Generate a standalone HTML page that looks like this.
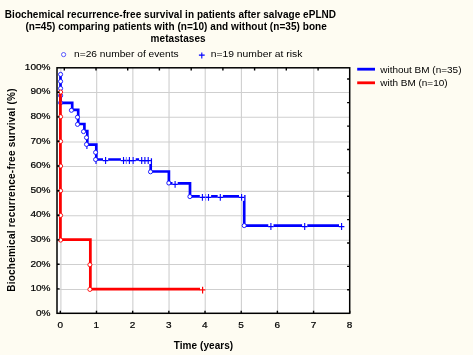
<!DOCTYPE html>
<html><head><meta charset="utf-8"><style>
html,body{margin:0;padding:0;background:#fefcf2;overflow:hidden}
svg{display:block}
text{font-family:"Liberation Sans",sans-serif;font-size:10px;fill:#000}
.b{font-weight:bold;font-size:10px}
.t{font-size:9.3px;letter-spacing:0.3px}
</style></head><body>
<svg width="473" height="355" viewBox="0 0 473 355">
<defs><filter id="gs" filterUnits="userSpaceOnUse" x="0" y="0" width="473" height="355"><feColorMatrix type="saturate" values="0"/></filter></defs>
<rect x="0" y="0" width="473" height="355" fill="#fefcf2"/>

<rect x="57.0" y="67.8" width="292.7" height="245.5" fill="#fff"/>
<path d="M96.68 67.8V313.3 M132.86 67.8V313.3 M169.04 67.8V313.3 M205.22 67.8V313.3 M241.40 67.8V313.3 M277.58 67.8V313.3 M313.76 67.8V313.3 M60.9 67.8V313.3 M57.0 92.5H349.7 M57.0 117.3H349.7 M57.0 142.0H349.7 M57.0 166.5H349.7 M57.0 191.4H349.7 M57.0 215.8H349.7 M57.0 240.3H349.7 M57.0 264.5H349.7 M57.0 289.5H349.7" stroke="#cfcfcf" stroke-width="1.1" fill="none"/>
<path d="M60.5 74.5 L60.5 102.9 L72.2 102.9 L72.2 109.9 L78.2 109.9 L78.2 124.0 L84.4 124.0 L84.4 131.0 L87.3 131.0 L87.3 144.6 L96.3 144.6 L96.3 159.5 L150.7 159.5 L150.7 171.5 L168.9 171.5 L168.9 183.4 L190.0 183.4 L190.0 196.4 L244.2 196.4 L244.2 225.6 L342.0 225.6" stroke="#0000ff" stroke-width="2.7" fill="none" stroke-linejoin="miter" stroke-linecap="butt"/>
<rect x="103.00" y="157.20" width="5.2" height="6.8" fill="#fff"/>
<rect x="120.90" y="157.20" width="5.2" height="6.8" fill="#fff"/>
<rect x="126.80" y="157.20" width="5.2" height="6.8" fill="#fff"/>
<rect x="130.50" y="157.20" width="5.2" height="6.8" fill="#fff"/>
<rect x="139.10" y="157.20" width="5.2" height="6.8" fill="#fff"/>
<rect x="142.30" y="157.20" width="5.2" height="6.8" fill="#fff"/>
<rect x="145.60" y="157.20" width="5.2" height="6.8" fill="#fff"/>
<rect x="172.50" y="181.00" width="5.2" height="6.8" fill="#fff"/>
<rect x="199.80" y="194.00" width="5.2" height="6.8" fill="#fff"/>
<rect x="205.90" y="194.00" width="5.2" height="6.8" fill="#fff"/>
<rect x="217.70" y="194.00" width="5.2" height="6.8" fill="#fff"/>
<rect x="239.00" y="194.00" width="5.2" height="6.8" fill="#fff"/>
<rect x="268.30" y="223.20" width="5.2" height="6.8" fill="#fff"/>
<rect x="302.10" y="223.20" width="5.2" height="6.8" fill="#fff"/>
<rect x="339.00" y="223.20" width="5.2" height="6.8" fill="#fff"/>
<rect x="123.80" y="157.20" width="5.2" height="6.8" fill="#fff"/>
<rect x="202.90" y="194.00" width="5.2" height="6.8" fill="#fff"/>
<path d="M102.80 160.60h5.6M105.60 157.10v6.8" stroke="#0000ff" stroke-width="1.1"/>
<path d="M120.70 160.60h5.6M123.50 157.10v6.8" stroke="#0000ff" stroke-width="1.1"/>
<path d="M126.60 160.60h5.6M129.40 157.10v6.8" stroke="#0000ff" stroke-width="1.1"/>
<path d="M130.30 160.60h5.6M133.10 157.10v6.8" stroke="#0000ff" stroke-width="1.1"/>
<path d="M138.90 160.60h5.6M141.70 157.10v6.8" stroke="#0000ff" stroke-width="1.1"/>
<path d="M142.10 160.60h5.6M144.90 157.10v6.8" stroke="#0000ff" stroke-width="1.1"/>
<path d="M145.40 160.60h5.6M148.20 157.10v6.8" stroke="#0000ff" stroke-width="1.1"/>
<path d="M172.30 184.40h5.6M175.10 180.90v6.8" stroke="#0000ff" stroke-width="1.1"/>
<path d="M199.60 197.40h5.6M202.40 193.90v6.8" stroke="#0000ff" stroke-width="1.1"/>
<path d="M205.70 197.40h5.6M208.50 193.90v6.8" stroke="#0000ff" stroke-width="1.1"/>
<path d="M217.50 197.40h5.6M220.30 193.90v6.8" stroke="#0000ff" stroke-width="1.1"/>
<path d="M238.80 197.40h5.6M241.60 193.90v6.8" stroke="#0000ff" stroke-width="1.1"/>
<path d="M268.10 226.60h5.6M270.90 223.10v6.8" stroke="#0000ff" stroke-width="1.1"/>
<path d="M301.90 226.60h5.6M304.70 223.10v6.8" stroke="#0000ff" stroke-width="1.1"/>
<path d="M338.80 226.60h5.6M341.60 223.10v6.8" stroke="#0000ff" stroke-width="1.1"/>
<path d="M123.60 160.20h5.6M126.40 157.10v6.8" stroke="#0000ff" stroke-width="1.2" opacity="0.45"/>
<path d="M202.70 197.00h5.6M205.50 193.90v6.8" stroke="#0000ff" stroke-width="1.2" opacity="0.45"/>
<path d="M86.9 144.4v4.6" stroke="#0000ff" stroke-width="1.1"/>
<path d="M96.0 159.5v4.6" stroke="#0000ff" stroke-width="1.1"/>
<circle cx="60.6" cy="74.4" r="2.05" fill="#fff" stroke="#0000ff" stroke-width="0.85"/>
<circle cx="60.6" cy="81.4" r="2.05" fill="#fff" stroke="#0000ff" stroke-width="0.85"/>
<circle cx="60.6" cy="88.4" r="2.05" fill="#fff" stroke="#0000ff" stroke-width="0.85"/>
<circle cx="60.6" cy="95.6" r="2.05" fill="#fff" stroke="#0000ff" stroke-width="0.85"/>
<circle cx="60.6" cy="102.8" r="2.05" fill="#fff" stroke="#0000ff" stroke-width="0.85"/>
<circle cx="71.4" cy="110.3" r="2.05" fill="#fff" stroke="#0000ff" stroke-width="0.85"/>
<circle cx="77.5" cy="117.2" r="2.05" fill="#fff" stroke="#0000ff" stroke-width="0.85"/>
<circle cx="77.5" cy="124.4" r="2.05" fill="#fff" stroke="#0000ff" stroke-width="0.85"/>
<circle cx="83.5" cy="131.6" r="2.05" fill="#fff" stroke="#0000ff" stroke-width="0.85"/>
<circle cx="86.5" cy="137.6" r="2.05" fill="#fff" stroke="#0000ff" stroke-width="0.85"/>
<circle cx="86.5" cy="144.4" r="2.05" fill="#fff" stroke="#0000ff" stroke-width="0.85"/>
<circle cx="95.6" cy="152.4" r="2.05" fill="#fff" stroke="#0000ff" stroke-width="0.85"/>
<circle cx="95.6" cy="159.5" r="2.05" fill="#fff" stroke="#0000ff" stroke-width="0.85"/>
<circle cx="150.5" cy="171.8" r="2.05" fill="#fff" stroke="#0000ff" stroke-width="0.85"/>
<circle cx="168.8" cy="183.0" r="2.05" fill="#fff" stroke="#0000ff" stroke-width="0.85"/>
<circle cx="189.9" cy="196.6" r="2.05" fill="#fff" stroke="#0000ff" stroke-width="0.85"/>
<circle cx="244.2" cy="225.6" r="2.05" fill="#fff" stroke="#0000ff" stroke-width="0.85"/>
<path d="M60.4 92.1 L60.4 239.7 L90.35 239.7 L90.35 289.2 L203.5 289.2" stroke="#ff0000" stroke-width="2.75" fill="none" stroke-linecap="butt"/>
<rect x="200.0" y="286.9" width="5.2" height="6.8" fill="#fff"/>
<path d="M199.79999999999998 289.9h5.6M202.6 286.8v6.8" stroke="#ff0000" stroke-width="1.2"/>
<circle cx="60.6" cy="92.06" r="2.05" fill="#fff" stroke="#ff0000" stroke-width="0.9"/>
<circle cx="60.6" cy="116.73" r="2.05" fill="#fff" stroke="#ff0000" stroke-width="0.9"/>
<circle cx="60.6" cy="141.40" r="2.05" fill="#fff" stroke="#ff0000" stroke-width="0.9"/>
<circle cx="60.6" cy="166.07" r="2.05" fill="#fff" stroke="#ff0000" stroke-width="0.9"/>
<circle cx="60.6" cy="190.74" r="2.05" fill="#fff" stroke="#ff0000" stroke-width="0.9"/>
<circle cx="60.6" cy="215.41" r="2.05" fill="#fff" stroke="#ff0000" stroke-width="0.9"/>
<circle cx="60.6" cy="240.08" r="2.05" fill="#fff" stroke="#ff0000" stroke-width="0.9"/>
<circle cx="89.9" cy="264.75" r="2.05" fill="#fff" stroke="#ff0000" stroke-width="0.9"/>
<circle cx="89.9" cy="289.42" r="2.05" fill="#fff" stroke="#ff0000" stroke-width="0.9"/>
<rect x="57.0" y="67.8" width="292.70" height="245.50" fill="none" stroke="#000" stroke-width="1.5"/>
<path d="M60.30 313.3v-2.6 M96.48 313.3v-2.6 M132.66 313.3v-2.6 M168.84 313.3v-2.6 M205.02 313.3v-2.6 M241.20 313.3v-2.6 M277.38 313.3v-2.6 M313.56 313.3v-2.6 M349.74 313.3v-2.6 M57.0 92.3h2.6 M57.0 116.9h2.6 M57.0 141.3h2.6 M57.0 166.0h2.6 M57.0 190.7h2.6 M57.0 215.2h2.6 M57.0 239.9h2.6 M57.0 264.3h2.6 M57.0 288.9h2.6 M64.3 67.8v2.6 M96.0 67.8v2.6 M127.7 67.8v2.6 M159.4 67.8v2.6 M191.2 67.8v2.6 M222.9 67.8v2.6 M254.6 67.8v2.6 M286.3 67.8v2.6 M318.1 67.8v2.6 M349.7 79h-2.6 M349.7 102.6h-2.6 M349.7 126.1h-2.6 M349.7 149.5h-2.6 M349.7 172.9h-2.6 M349.7 196.3h-2.6 M349.7 219.6h-2.6 M349.7 243h-2.6 M349.7 266.4h-2.6 M349.7 289.8h-2.6" stroke="#000" stroke-width="1.4" fill="none"/>
<g filter="url(#gs)">
<text class="b" x="4.8" y="18.0" textLength="331.3" lengthAdjust="spacing">Biochemical recurrence-free survival in patients after salvage ePLND</text>
<text class="b" x="25.4" y="30.2" textLength="301.4" lengthAdjust="spacing">(n=45) comparing patients with (n=10) and without (n=35) bone</text>
<text class="b" x="150.6" y="42.4" textLength="55.0" lengthAdjust="spacing">metastases</text>
<text transform="translate(74.00 57.40) scale(1.0870 1)" style="font-size:9.4px;stroke:#000;stroke-width:0.0px" text-anchor="start">n=26 number of events</text>
<text transform="translate(210.70 57.40) scale(1.1000 1)" style="font-size:9.4px;stroke:#000;stroke-width:0.0px" text-anchor="start">n=19 number at risk</text>
<text transform="translate(60.15 327.50) scale(1.0638 1)" style="font-size:9.4px;stroke:#000;stroke-width:0.22px" text-anchor="middle">0</text>
<text transform="translate(96.33 327.50) scale(1.0638 1)" style="font-size:9.4px;stroke:#000;stroke-width:0.22px" text-anchor="middle">1</text>
<text transform="translate(132.51 327.50) scale(1.0638 1)" style="font-size:9.4px;stroke:#000;stroke-width:0.22px" text-anchor="middle">2</text>
<text transform="translate(168.69 327.50) scale(1.0638 1)" style="font-size:9.4px;stroke:#000;stroke-width:0.22px" text-anchor="middle">3</text>
<text transform="translate(204.87 327.50) scale(1.0638 1)" style="font-size:9.4px;stroke:#000;stroke-width:0.22px" text-anchor="middle">4</text>
<text transform="translate(241.05 327.50) scale(1.0638 1)" style="font-size:9.4px;stroke:#000;stroke-width:0.22px" text-anchor="middle">5</text>
<text transform="translate(277.23 327.50) scale(1.0638 1)" style="font-size:9.4px;stroke:#000;stroke-width:0.22px" text-anchor="middle">6</text>
<text transform="translate(313.41 327.50) scale(1.0638 1)" style="font-size:9.4px;stroke:#000;stroke-width:0.22px" text-anchor="middle">7</text>
<text transform="translate(349.59 327.50) scale(1.0638 1)" style="font-size:9.4px;stroke:#000;stroke-width:0.22px" text-anchor="middle">8</text>
<text transform="translate(50.60 69.80) scale(1.0750 1)" style="font-size:9.4px;stroke:#000;stroke-width:0.22px" text-anchor="end">100%</text>
<text transform="translate(50.60 94.40) scale(1.0750 1)" style="font-size:9.4px;stroke:#000;stroke-width:0.22px" text-anchor="end">90%</text>
<text transform="translate(50.60 119.00) scale(1.0750 1)" style="font-size:9.4px;stroke:#000;stroke-width:0.22px" text-anchor="end">80%</text>
<text transform="translate(50.60 143.60) scale(1.0750 1)" style="font-size:9.4px;stroke:#000;stroke-width:0.22px" text-anchor="end">70%</text>
<text transform="translate(50.60 168.20) scale(1.0750 1)" style="font-size:9.4px;stroke:#000;stroke-width:0.22px" text-anchor="end">60%</text>
<text transform="translate(50.60 192.80) scale(1.0750 1)" style="font-size:9.4px;stroke:#000;stroke-width:0.22px" text-anchor="end">50%</text>
<text transform="translate(50.60 217.40) scale(1.0750 1)" style="font-size:9.4px;stroke:#000;stroke-width:0.22px" text-anchor="end">40%</text>
<text transform="translate(50.60 242.00) scale(1.0750 1)" style="font-size:9.4px;stroke:#000;stroke-width:0.22px" text-anchor="end">30%</text>
<text transform="translate(50.60 266.60) scale(1.0750 1)" style="font-size:9.4px;stroke:#000;stroke-width:0.22px" text-anchor="end">20%</text>
<text transform="translate(50.60 291.20) scale(1.0750 1)" style="font-size:9.4px;stroke:#000;stroke-width:0.22px" text-anchor="end">10%</text>
<text transform="translate(50.60 315.80) scale(1.0750 1)" style="font-size:9.4px;stroke:#000;stroke-width:0.22px" text-anchor="end">0%</text>
<text class="b" x="173.7" y="348.6" textLength="59.5" lengthAdjust="spacing">Time (years)</text>
<text class="b" transform="translate(15.4 291.8) rotate(-90)" x="0" y="0" textLength="203.3" lengthAdjust="spacing">Biochemical recurrence-free survival (%)</text>
<text transform="translate(380.20 72.70) scale(1.0638 1)" style="font-size:9.4px;stroke:#000;stroke-width:0.0px" text-anchor="start">without BM (n=35)</text>
<text transform="translate(380.20 86.30) scale(1.0638 1)" style="font-size:9.4px;stroke:#000;stroke-width:0.0px" text-anchor="start">with BM (n=10)</text>
</g>
<circle cx="63.6" cy="54.6" r="2.1" fill="#fff" stroke="#0000ff" stroke-width="0.8" opacity="0.8"/>
<path d="M198.9 55.1h5.8M201.8 52.6v6" stroke="#0000ff" stroke-width="1.1"/>
<path d="M357.2 69.2H375.0" stroke="#0000ff" stroke-width="2.8"/>
<path d="M357.2 82.8H375.0" stroke="#ff0000" stroke-width="2.8"/>
</svg></body></html>
